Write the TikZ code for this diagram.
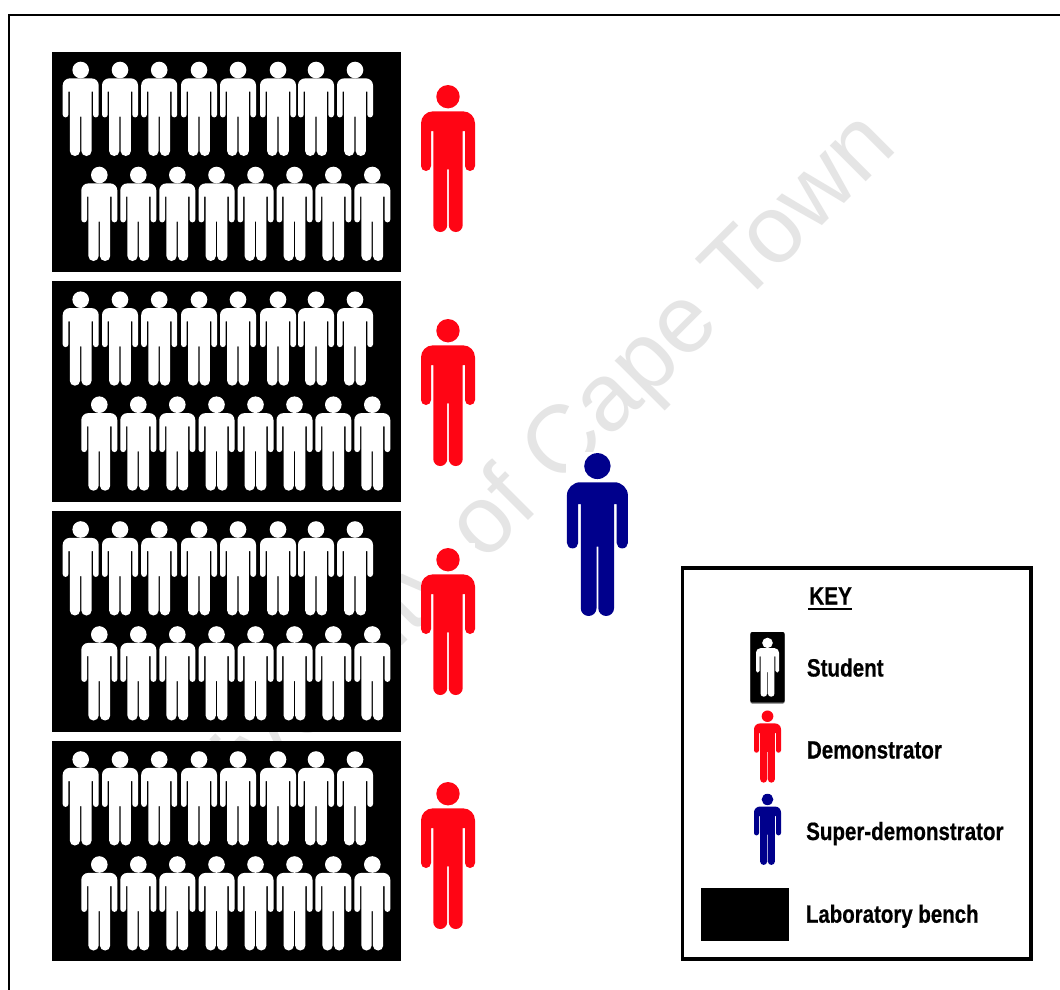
\documentclass[tikz,border=0pt]{standalone}
\usepackage{fontspec}
\usepackage{graphicx}
\setmainfont[BoldFeatures={FakeBold=0.6}]{Liberation Sans}
\definecolor{demored}{HTML}{FF0514}
\definecolor{superblue}{HTML}{00008C}
\definecolor{markgrey}{HTML}{E5E5E5}
\tikzset{
  person/.pic={
    \fill[pic actions] (0,12.7) circle [radius=11.7];
    \fill[pic actions] (-15,27.3) -- (15,27.3)
      .. controls (21.6,27.3) and (27,32.7) .. (27,39.3) -- (27,82)
      .. controls (27,84.8) and (24.8,87) .. (22,87)
      .. controls (19.2,87) and (17,84.8) .. (17,82) -- (17,47) -- (14.7,47) -- (14.7,141.05)
      .. controls (14.7,144.9) and (11.6,148) .. (7.75,148)
      .. controls (3.9,148) and (0.8,144.9) .. (0.8,141.05) -- (0.8,85.3) -- (-0.8,85.3) -- (-0.8,141.05)
      .. controls (-0.8,144.9) and (-3.9,148) .. (-7.75,148)
      .. controls (-11.6,148) and (-14.7,144.9) .. (-14.7,141.05) -- (-14.7,47) -- (-17,47) -- (-17,82)
      .. controls (-17,84.8) and (-19.2,87) .. (-22,87)
      .. controls (-24.8,87) and (-27,84.8) .. (-27,82) -- (-27,39.3)
      .. controls (-27,32.7) and (-21.6,27.3) .. (-15,27.3) -- cycle;
  },
  learner/.pic={
    \fill[pic actions] (0,8.3) circle [radius=8.3];
    \fill[pic actions] (-11,16.7) -- (11,16.7)
      .. controls (14.9,16.7) and (18,19.8) .. (18,23.7) -- (18,52.9)
      .. controls (18,54.5) and (16.7,55.7) .. (15.15,55.7)
      .. controls (13.6,55.7) and (12.3,54.5) .. (12.3,52.9) -- (12.3,30) -- (10.9,30) -- (10.9,89.3)
      .. controls (10.9,92.1) and (8.7,94.3) .. (5.8,94.3)
      .. controls (3,94.3) and (0.6,92.1) .. (0.6,89.3) -- (0.6,55) -- (-0.6,55) -- (-0.6,89.3)
      .. controls (-0.6,92.1) and (-3,94.3) .. (-5.8,94.3)
      .. controls (-8.7,94.3) and (-10.9,92.1) .. (-10.9,89.3) -- (-10.9,30) -- (-12.3,30) -- (-12.3,52.9)
      .. controls (-12.3,54.5) and (-13.6,55.7) .. (-15.15,55.7)
      .. controls (-16.7,55.7) and (-18,54.5) .. (-18,52.9) -- (-18,23.7)
      .. controls (-18,19.8) and (-14.9,16.7) .. (-11,16.7) -- cycle;
  },
  studentfig/.style={fill=white},
  demofig/.style={fill=demored},
  superfig/.style={fill=superblue,xscale=1.13,yscale=1.108},
  keystudent/.style={fill=white,xscale=0.639,yscale=0.626},
  keydemo/.style={fill=demored,xscale=0.5,yscale=0.491},
  keysuper/.style={fill=superblue,xscale=0.5,yscale=0.484},
  keylabel/.style={anchor=base west,inner sep=0pt,font=\bfseries\fontsize{25}{25}\selectfont},
  frameline/.style={line width=2pt,black},
  benchbox/.style={fill=black},
  whitebg/.style={fill=white}
}
\begin{document}
\begin{tikzpicture}[x=1pt,y=-1pt]
\useasboundingbox (0,0) rectangle (1060,990);
\fill[white] (0,0) rectangle (1060,990);
% frame, open to the right and bottom
\draw[frameline] (9,990) -- (9,15) -- (1060,15);
% watermark
\node[anchor=base east,rotate=45,inner sep=0pt,text=markgrey,font=\fontsize{96}{96}\selectfont] (mark) at (899.7,148.6) {University of Cape Town};
% white backgrounds of the figures hide the watermark
\foreach \t in {84,318,547,781} \fill[whitebg] (421,\t-4) rectangle (475,\t+150);
\fill[whitebg] (566,452) rectangle (628,616);
% benches with students
\foreach \top/\bot/\off in {52/272/0, 281/502/229.7, 511/732/459.5, 741/961/689.5}{
  \fill[benchbox] (52,\top) rectangle (401,\bot);
  \foreach \x in {80.7,120,159.2,199,238,278,316,355}
    \pic[studentfig] at (\x,61.7+\off) {learner};
  \foreach \x in {99.3,138.3,177.3,216.5,255.5,294.5,333.3,372.3}
    \pic[studentfig] at (\x,166.7+\off) {learner};
}
% demonstrators
\foreach \t in {84,318,547,781} \pic[demofig] at (448,\t) {person};
% super-demonstrator
\pic[superfig] at (597.4,452) {person};
% key
\draw[line width=3.5pt,black,fill=white] (682.5,568) rectangle (1031,959);
\node[keylabel] (keytitle) at (809,604.5) {\resizebox{42.7pt}{\height}{KEY}};
\draw[line width=2.4pt] ([yshift=-4.5pt]keytitle.base west) ++(-1,0) -- ([yshift=-4.5pt]keytitle.base east);
\fill[black!60,rounded corners=2pt] (750.3,633) rectangle (784.7,703.6);
\fill[black,rounded corners=2pt] (750.3,632) rectangle (784.7,702.4);
\pic[keystudent] at (767.5,637.7) {learner};
\pic[keydemo] at (767.5,710) {person};
\pic[keysuper] at (767.5,793.3) {person};
\fill[benchbox] (701,888) rectangle (789,940.7);
\node[keylabel] (student) at (806.7,676.5) {\resizebox{76.7pt}{\height}{Student}};
\node[keylabel] (demo) at (806.7,758.5) {\resizebox{135pt}{\height}{Demonstrator}};
\node[keylabel] (super) at (806,840) {\resizebox{197.3pt}{\height}{Super-demonstrator}};
\node[keylabel] (lab) at (805.7,922.7) {\resizebox{172.7pt}{\height}{Laboratory bench}};
\end{tikzpicture}
\end{document}
